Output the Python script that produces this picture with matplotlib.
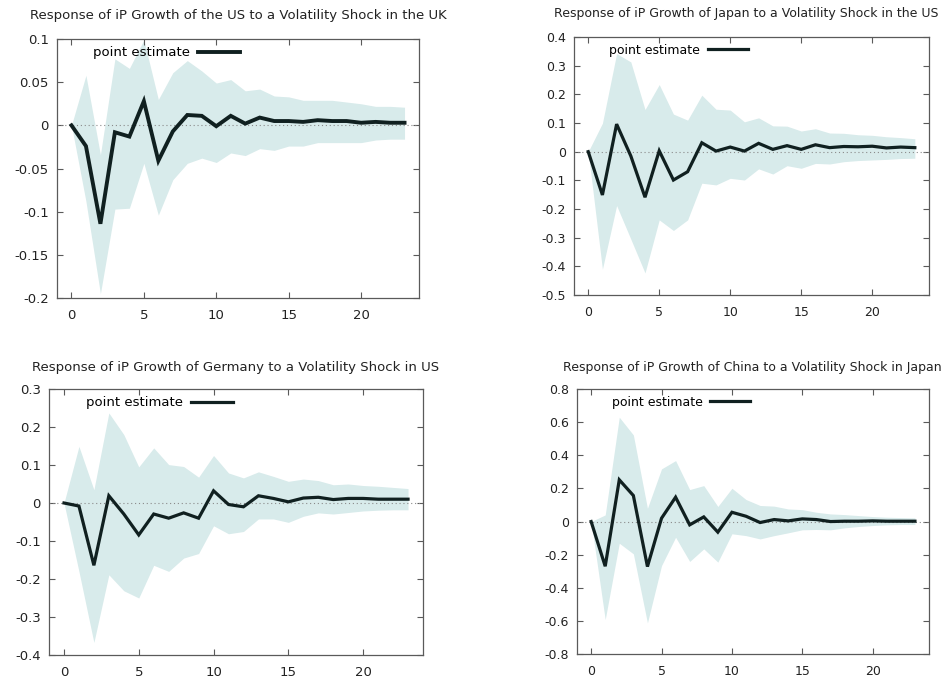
import numpy as np
import matplotlib
matplotlib.use("Agg")
import matplotlib.pyplot as plt

plt.rcParams['font.family'] = ['DejaVu Sans']
plt.rcParams['font.size'] = 9.5

# 横轴：冲击后期数 0..23
horizon = np.arange(24)

# 美国对英国波动冲击
us_uk_point = [0, -0.024, -0.114, -0.008, -0.013, 0.028, -0.041, -0.007, 0.012, 0.011,
               -0.001, 0.011, 0.002, 0.009, 0.005, 0.005, 0.004, 0.006, 0.005, 0.005,
               0.003, 0.004, 0.003, 0.003]
us_uk_upper = [0, 0.058, -0.034, 0.077, 0.066, 0.099, 0.030, 0.061, 0.075, 0.063,
               0.049, 0.053, 0.040, 0.042, 0.034, 0.033, 0.029, 0.029, 0.029, 0.027,
               0.025, 0.022, 0.022, 0.021]
us_uk_lower = [0, -0.088, -0.195, -0.097, -0.096, -0.044, -0.104, -0.063, -0.044, -0.038,
               -0.043, -0.032, -0.035, -0.027, -0.029, -0.024, -0.024, -0.020, -0.020, -0.020,
               -0.020, -0.017, -0.016, -0.016]

# 日本对美国波动冲击
jp_us_point = [0, -0.151, 0.096, -0.015, -0.159, 0.003, -0.099, -0.070, 0.031, 0.002,
               0.016, 0.002, 0.029, 0.008, 0.021, 0.008, 0.024, 0.014, 0.018, 0.017,
               0.019, 0.013, 0.016, 0.014]
jp_us_upper = [0, 0.099, 0.342, 0.313, 0.147, 0.234, 0.131, 0.110, 0.197, 0.148,
               0.145, 0.104, 0.118, 0.090, 0.089, 0.072, 0.080, 0.065, 0.064, 0.059,
               0.057, 0.052, 0.049, 0.045]
jp_us_lower = [0, -0.410, -0.188, -0.305, -0.423, -0.238, -0.275, -0.238, -0.110, -0.116,
               -0.093, -0.099, -0.060, -0.078, -0.049, -0.058, -0.041, -0.043, -0.035, -0.031,
               -0.029, -0.027, -0.024, -0.023]

# 德国对美国波动冲击
de_us_point = [0, -0.008, -0.164, 0.019, -0.029, -0.084, -0.029, -0.040, -0.026, -0.040,
               0.032, -0.004, -0.010, 0.019, 0.012, 0.003, 0.013, 0.015, 0.009, 0.012,
               0.012, 0.010, 0.010, 0.010]
de_us_upper = [0, 0.149, 0.035, 0.237, 0.180, 0.095, 0.145, 0.101, 0.096, 0.068,
               0.125, 0.079, 0.066, 0.082, 0.070, 0.057, 0.063, 0.059, 0.048, 0.050,
               0.046, 0.044, 0.041, 0.038]
de_us_lower = [0, -0.180, -0.367, -0.189, -0.231, -0.250, -0.164, -0.180, -0.145, -0.133,
               -0.060, -0.081, -0.075, -0.042, -0.042, -0.051, -0.035, -0.026, -0.029, -0.025,
               -0.021, -0.019, -0.018, -0.018]

# 中国对日本波动冲击
cn_jp_point = [0, -0.270, 0.252, 0.157, -0.272, 0.020, 0.147, -0.020, 0.028, -0.064,
               0.056, 0.032, -0.006, 0.012, 0.004, 0.016, 0.012, 0.0, 0.002, 0.002,
               0.004, 0.002, 0.002, 0.002]
cn_jp_upper = [0, 0.040, 0.630, 0.523, 0.080, 0.318, 0.368, 0.193, 0.217, 0.091,
               0.201, 0.133, 0.097, 0.093, 0.076, 0.072, 0.056, 0.046, 0.042, 0.036,
               0.030, 0.026, 0.024, 0.022]
cn_jp_lower = [0, -0.592, -0.131, -0.195, -0.612, -0.266, -0.095, -0.241, -0.165, -0.245,
               -0.074, -0.085, -0.105, -0.085, -0.068, -0.050, -0.048, -0.050, -0.038, -0.030,
               -0.024, -0.020, -0.018, -0.018]

titles = [
    "Response of iP Growth of the US to a Volatility Shock in the UK",
    "Response of iP Growth of Japan to a Volatility Shock in the US",
    "Response of iP Growth of Germany to a Volatility Shock in US",
    "Response of iP Growth of China to a Volatility Shock in Japan",
]
# 标题中心（像素，左上为原点）
title_xy = [(238, 16), (746, 13), (236, 367), (752, 367)]
# 右侧两幅图原图略小
font_sizes = [9.5, 9.0, 9.5, 9.0]
line_widths = [2.8, 2.3, 2.3, 2.3]

band_color = '#d8ebeb'
line_color = '#102020'
frame_color = '#5a5a5a'

W, H = 948, 681
fig = plt.figure(figsize=(W / 100, H / 100), dpi=100)

# 每个面板：位置、y范围、y刻度、数据
panels = [
    ([0.0601, 0.5624, 0.3819, 0.3803], (-0.2, 0.1), np.arange(-0.2, 0.101, 0.05),
     ['-0.2', '-0.15', '-0.1', '-0.05', '0', '0.05', '0.1'],
     us_uk_point, us_uk_upper, us_uk_lower),
    ([0.6055, 0.5668, 0.3745, 0.3789], (-0.5, 0.4), np.arange(-0.5, 0.401, 0.1),
     ['-0.5', '-0.4', '-0.3', '-0.2', '-0.1', '0', '0.1', '0.2', '0.3', '0.4'],
     jp_us_point, jp_us_upper, jp_us_lower),
    ([0.0517, 0.0382, 0.3945, 0.3906], (-0.4, 0.3), np.arange(-0.4, 0.301, 0.1),
     ['-0.4', '-0.3', '-0.2', '-0.1', '0', '0.1', '0.2', '0.3'],
     de_us_point, de_us_upper, de_us_lower),
    ([0.6087, 0.0396, 0.3713, 0.3891], (-0.8, 0.8), np.arange(-0.8, 0.801, 0.2),
     ['-0.8', '-0.6', '-0.4', '-0.2', '0', '0.2', '0.4', '0.6', '0.8'],
     cn_jp_point, cn_jp_upper, cn_jp_lower),
]

for (pos, ylim, yticks, ylabels, point, upper, lower), title, (tx, ty), fs, lw in zip(
        panels, titles, title_xy, font_sizes, line_widths):
    ax = fig.add_axes(pos)
    ax.fill_between(horizon, lower, upper, color=band_color, lw=0, zorder=1)
    ax.axhline(0, color='#8a8a8a', lw=0.8, ls=(0, (1, 2.5)), zorder=2)
    ax.plot(horizon, point, color=line_color, lw=lw, zorder=3,
            solid_joinstyle='miter', label='point estimate')
    ax.set_xlim(-1, 24)
    ax.set_ylim(*ylim)
    ax.set_xticks([0, 5, 10, 15, 20])
    ax.set_yticks(yticks)
    ax.set_yticklabels(ylabels)
    ax.tick_params(direction='in', top=True, right=True, length=4.5, width=0.8,
                   color=frame_color, labelsize=fs, labelcolor='#222222')
    ax.tick_params(axis='x', pad=8)
    ax.tick_params(axis='y', pad=6)
    for s in ax.spines.values():
        s.set_color(frame_color)
        s.set_linewidth(0.9)
    fig.text(tx / W, 1 - ty / H, title, ha='center', va='center',
             fontsize=fs, color='#222222')
    ax.legend(loc='upper left', bbox_to_anchor=(0.069, 1.015), frameon=False,
              markerfirst=False, handlelength=3.2, handletextpad=0.6,
              borderpad=0.35, fontsize=fs)

fig.savefig('out.png', dpi=100)
